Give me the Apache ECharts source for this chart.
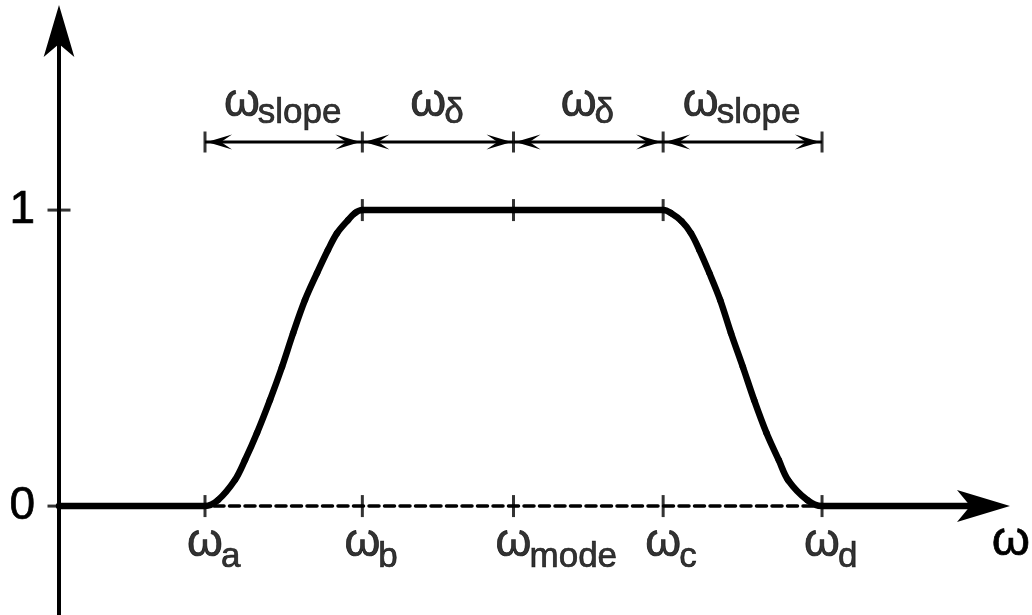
<!DOCTYPE html>
<html>
<head>
<meta charset="utf-8">
<script src="https://cdn.jsdelivr.net/npm/echarts@6/dist/echarts.min.js"></script>
<style>
  html, body { margin: 0; padding: 0; background: #ffffff; }
  #chart { width: 1032px; height: 615px; }
</style>
</head>
<body>
<div id="chart"></div>
<script>
// Frequency markers along the ω axis
const markerNames = ['a', 'b', 'mode', 'c', 'd'];
const markerValues = [1.00, 2.02, 3.00, 3.97, 5.00];

// Interval annotations between neighbouring markers
const spanNames = ['slope', 'δ', 'δ', 'slope'];

// Window response: ω positions and response values
const curveW = [0.0535, 1.00, 1.084, 1.194, 1.259, 1.337, 1.421, 1.499, 1.571, 1.648, 1.726, 1.797, 1.856, 1.927, 1.972, 2.02,
                3.00,
                3.97, 4.02, 4.09, 4.15, 4.205, 4.27, 4.34, 4.41, 4.487, 4.56, 4.64, 4.72, 4.78, 4.905, 5.00, 6.05];
const curveR = [0, 0, 0.02, 0.088, 0.155, 0.247, 0.358, 0.470, 0.584, 0.696, 0.787, 0.865, 0.922, 0.966, 0.99, 1,
                1,
                1, 0.99, 0.962, 0.922, 0.865, 0.787, 0.696, 0.584, 0.470, 0.358, 0.247, 0.155, 0.088, 0.02, 0, 0];

// Response ticks on the vertical axis
const yTickValues = [0, 1];
const yTickLabels = ['0', '1'];

// Axis extents and the height of the interval annotations
const xMin = 0.0535, xMax = 6.05;
const yMin = -0.368, yMax = 1.605;
const spanLevel = 1.23;

const FONT = '"Liberation Sans", Arial, Helvetica, sans-serif';
const INK = '#000000';
// a hairline outline in the text colour gives the glyphs a slightly firmer stroke
const TEXT_EDGE = { textBorderColor: INK, textBorderWidth: 0.7 };

function richFor(lineHeight) {
  return {
    w: Object.assign({ fontFamily: FONT, fontSize: 46, color: INK, width: 32, align: 'center', lineHeight: lineHeight }, TEXT_EDGE),
    s: Object.assign({ fontFamily: FONT, fontSize: 35, color: INK, lineHeight: 14, verticalAlign: 'bottom' }, TEXT_EDGE)
  };
}

const curveData = curveW.map((w, i) => [w, curveR[i]]);
const spans = spanNames.map((n, i) => ({ name: n, from: markerValues[i], to: markerValues[i + 1] }));

// One smooth cubic piece of the response curve, from point i to point i + 1.
// Tangents follow the neighbouring points (level where a flat run starts or ends),
// and control arms scale with the chord.
function renderCurvePiece(params, api) {
  const i = params.dataIndex;
  const n = curveData.length;
  if (i >= n - 1) return null;
  const P = k => api.coord(curveData[k]);
  const unit = (a, b) => {
    const l = Math.hypot(b[0] - a[0], b[1] - a[1]) || 1;
    return [(b[0] - a[0]) / l, (b[1] - a[1]) / l];
  };
  const tangent = k => {
    if (k === 0) return unit(P(0), P(1));
    if (k === n - 1) return unit(P(n - 2), P(n - 1));
    if (curveR[k - 1] === curveR[k] || curveR[k + 1] === curveR[k]) return [1, 0];
    return unit(P(k - 1), P(k + 1));
  };
  const p1 = P(i), p2 = P(i + 1);
  const t1 = tangent(i), t2 = tangent(i + 1);
  const d = Math.hypot(p2[0] - p1[0], p2[1] - p1[1]) / 3;
  return {
    type: 'bezierCurve',
    shape: {
      x1: p1[0], y1: p1[1], x2: p2[0], y2: p2[1],
      cpx1: p1[0] + t1[0] * d, cpy1: p1[1] + t1[1] * d,
      cpx2: p2[0] - t2[0] * d, cpy2: p2[1] - t2[1] * d
    },
    style: { stroke: INK, lineWidth: 6.5, fill: null, lineCap: 'round' }
  };
}

// Double-headed dimension arrow between two ω positions
function renderSpan(params, api) {
  const a = api.coord([api.value(0), api.value(2)]);
  const b = api.coord([api.value(1), api.value(2)]);
  const L = 25, H = 7.5, N = 14, g = 2;
  const head = (tip, dir) => [
    [tip[0], tip[1]],
    [tip[0] + dir * L, tip[1] - H],
    [tip[0] + dir * N, tip[1]],
    [tip[0] + dir * L, tip[1] + H]
  ];
  return {
    type: 'group',
    children: [
      { type: 'line', shape: { x1: a[0], y1: a[1], x2: b[0], y2: b[1] }, style: { stroke: INK, lineWidth: 3 } },
      { type: 'polygon', shape: { points: head([a[0] + g, a[1]], 1) }, style: { fill: INK } },
      { type: 'polygon', shape: { points: head([b[0] - g, b[1]], -1) }, style: { fill: INK } }
    ]
  };
}

const chart = echarts.init(document.getElementById('chart'), null, { renderer: 'canvas' });

chart.setOption({
  animation: false,
  backgroundColor: '#ffffff',
  grid: { left: 59, right: 48, top: 31, bottom: 0, containLabel: false, outerBoundsMode: 'none' },
  xAxis: {
    type: 'value',
    min: xMin,
    max: xMax,
    name: 'ω',
    nameLocation: 'end',
    nameGap: 27,
    nameTextStyle: Object.assign({ fontFamily: FONT, fontSize: 49, color: INK, align: 'center', verticalAlign: 'top', padding: [11, 0, 0, 0] }, TEXT_EDGE),
    axisLine: {
      show: true,
      onZero: true,
      symbol: ['none', 'arrow'],
      symbolSize: [24, 53],
      symbolOffset: [0, 26],
      lineStyle: { color: INK, width: 3.5, type: [10, 5.5] }
    },
    axisTick: { show: false },
    axisLabel: { show: false },
    splitLine: { show: false }
  },
  yAxis: {
    type: 'value',
    min: yMin,
    max: yMax,
    axisLine: {
      show: true,
      onZero: false,
      symbol: ['none', 'arrow'],
      symbolSize: [23, 52],
      symbolOffset: [0, 26],
      lineStyle: { color: INK, width: 4 }
    },
    axisTick: { show: false },
    axisLabel: Object.assign({
      show: true,
      customValues: yTickValues,
      formatter: v => yTickLabels[yTickValues.indexOf(v)] ?? '',
      fontFamily: FONT,
      fontSize: 46,
      color: INK,
      margin: 24
    }, TEXT_EDGE),
    splitLine: { show: false }
  },
  series: [
    {
      // window response
      type: 'custom',
      renderItem: renderCurvePiece,
      data: curveData,
      encode: { x: 0, y: 1 },
      clip: false,
      silent: true,
      z: 4
    },
    {
      // ticks and labels at ωa … ωd on the ω axis
      type: 'scatter',
      data: markerValues.map((v, i) => ({ value: [v, 0], name: markerNames[i] })),
      symbol: 'rect',
      symbolSize: [3, 22],
      itemStyle: { color: INK },
      clip: false,
      silent: true,
      z: 5,
      label: {
        show: true,
        position: 'bottom',
        distance: 0,
        align: 'left',
        offset: [-16, -6],
        formatter: p => '{w|ω}{s|' + p.name + '}',
        rich: richFor(64)
      }
    },
    {
      // ticks on the flat top
      type: 'scatter',
      data: markerValues.slice(1, 4).map(v => [v, 1]),
      symbol: 'rect',
      symbolSize: [3, 22],
      itemStyle: { color: INK },
      clip: false,
      silent: true,
      z: 5
    },
    {
      // end stops of the interval annotations
      type: 'scatter',
      data: markerValues.map(v => [v, spanLevel]),
      symbol: 'rect',
      symbolSize: [3, 21],
      itemStyle: { color: INK },
      clip: false,
      silent: true,
      z: 5
    },
    {
      // ticks crossing the response axis
      type: 'scatter',
      data: yTickValues.map(v => [xMin, v]),
      symbol: 'rect',
      symbolSize: [23, 3],
      itemStyle: { color: INK },
      clip: false,
      silent: true,
      z: 5
    },
    {
      // interval arrows
      type: 'custom',
      renderItem: renderSpan,
      data: spans.map(s => [s.from, s.to, spanLevel]),
      encode: { x: [0, 1], y: 2 },
      clip: false,
      silent: true,
      z: 5
    },
    {
      // interval names
      type: 'scatter',
      data: spans.map(s => ({ value: [(s.from + s.to) / 2, spanLevel], name: s.name })),
      symbolSize: 0,
      clip: false,
      silent: true,
      z: 5,
      label: {
        show: true,
        position: 'top',
        distance: 11,
        formatter: p => '{w|ω}{s|' + p.name + '}',
        rich: richFor(56)
      }
    }
  ]
});
</script>
</body>
</html>
